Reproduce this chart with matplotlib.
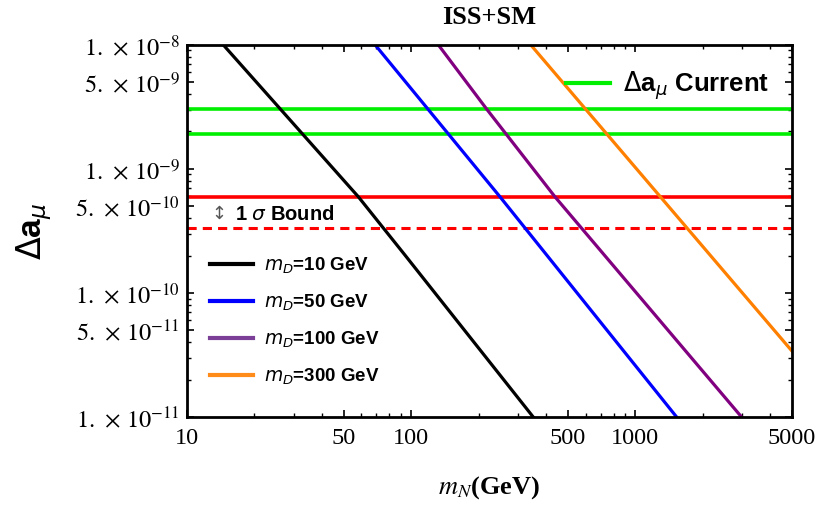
import numpy as np
import matplotlib
matplotlib.use('Agg')
import matplotlib.pyplot as plt
from matplotlib.lines import Line2D

plt.rcParams['mathtext.fontset'] = 'stix'
plt.rcParams['font.family'] = ['Liberation Serif', 'DejaVu Serif']

# curves: m_N (GeV) vs Delta a_mu
mN_10 = [14.5, 58.1, 93.8, 350.4]
da_10 = [1e-8, 5.96e-10, 2.02e-10, 1e-11]

mN_50 = [69.0, 248.9, 1528.6]
da_50 = [1e-8, 5.96e-10, 1e-11]

mN_100 = [132.1, 217.2, 437.8, 2979.0]
da_100 = [1e-8, 3.03e-9, 5.96e-10, 1e-11]

mN_300 = [341.2, 5000.0]
da_300 = [1e-8, 3.4e-11]

curr_hi, curr_lo = 3.03e-9, 1.90e-9
bound_hi, bound_lo = 5.96e-10, 3.35e-10

yticks = [1e-11, 5e-11, 1e-10, 5e-10, 1e-9, 5e-9, 1e-8]
ylabels = [r'$1.\,\times\,10^{-11}$', r'$5.\,\times\,10^{-11}$', r'$1.\,\times\,10^{-10}$',
           r'$5.\,\times\,10^{-10}$', r'$1.\,\times\,10^{-9}$', r'$5.\,\times\,10^{-9}$',
           r'$1.\,\times\,10^{-8}$']
xticks = [10, 50, 100, 500, 1000, 5000]

fig = plt.figure(figsize=(8.23, 5.07), dpi=100)
ax = fig.add_axes([0.2272, 0.1775, 0.7351, 0.7343])

ax.axhline(curr_hi, color='#00ee00', lw=2.6)
ax.axhline(curr_lo, color='#00ee00', lw=2.6)
ax.axhline(bound_hi, color='#ff0000', lw=2.6)
ax.axhline(bound_lo, color='#ff0000', lw=2.2, dashes=(3, 2))

ax.plot(mN_10, da_10, color='black', lw=2.3)
ax.plot(mN_50, da_50, color='#0000ff', lw=2.3)
ax.plot(mN_100, da_100, color='#800080', lw=2.3)
ax.plot(mN_300, da_300, color='#ff8000', lw=2.3)

ax.set_xscale('log')
ax.set_yscale('log')
ax.set_xlim(10, 5000)
ax.set_ylim(1e-11, 1e-8)
ax.set_xticks(xticks)
ax.set_xticklabels([str(t) for t in xticks])
ax.set_yticks(yticks)
ax.set_yticklabels(ylabels)
ax.tick_params(which='both', direction='in', top=True, right=True, labelsize=17.5)
ax.tick_params(which='major', length=5, width=1.2)
ax.tick_params(which='minor', length=3, width=1)
ax.tick_params(axis='x', pad=8)
ax.tick_params(axis='y', pad=5)
for s in ax.spines.values():
    s.set_linewidth(2)

ax.set_title('ISS+SM', fontsize=19, fontweight='bold', pad=15)
ax.set_xlabel(r'$\boldsymbol{m_N}$(GeV)', fontsize=19, fontweight='bold', labelpad=18)
ax.set_ylabel(r'$\Delta$a$_\mu$', fontsize=24, fontweight='bold', family='Liberation Sans',
              math_fontfamily='dejavusans', labelpad=15)

sans = {'family': 'Liberation Sans', 'weight': 'bold', 'size': 13.5}
h = [Line2D([], [], color=c, lw=3) for c in ['black', '#0000ff', '#7b3f98', '#ff8c1a']]
labs = [r'$m_D$=10 GeV', r'$m_D$=50 GeV', r'$m_D$=100 GeV', r'$m_D$=300 GeV']
leg = ax.legend(h, labs, loc='upper left', bbox_to_anchor=(0.01, 0.478), frameon=False,
                prop=sans, handlelength=2.3, labelspacing=0.88, handletextpad=0.6)
for t in leg.get_texts():
    t.set_math_fontfamily('dejavusans')
ax.add_artist(leg)

leg2 = ax.legend([Line2D([], [], color='#00ee00', lw=3)], [r'$\Delta$a$_\mu$ Current'],
                 loc='upper right', bbox_to_anchor=(1.0, 0.995), frameon=False,
                 prop={'family': 'Liberation Sans', 'weight': 'bold', 'size': 18.5},
                 handlelength=1.7, handletextpad=0.5)
for t in leg2.get_texts():
    t.set_math_fontfamily('dejavusans')

ax.text(0.041, 0.545, '\u2195', transform=ax.transAxes, fontsize=13, color='#555555',
        family='DejaVu Sans', va='center')
ax.text(0.079, 0.545, r'1 $\sigma$ Bound', transform=ax.transAxes, fontsize=14.5,
        family='Liberation Sans', fontweight='bold', math_fontfamily='dejavusans', va='center')

fig.savefig('out.png', dpi=100)
